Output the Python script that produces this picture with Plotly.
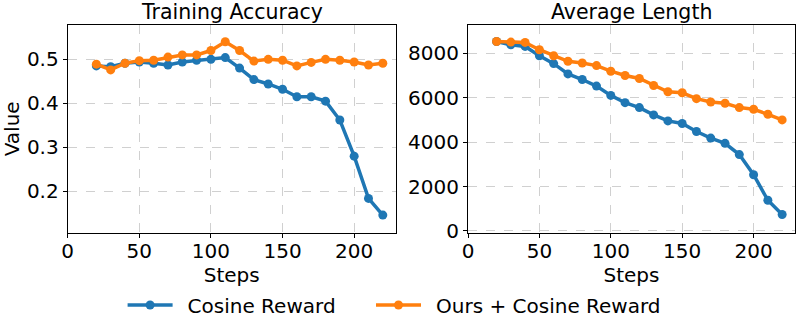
import plotly.graph_objects as go

steps = [20, 30, 40, 50, 60, 70, 80, 90, 100, 110, 120, 130, 140, 150, 160, 170, 180, 190, 200, 210, 220]

acc_cosine = [0.485, 0.483, 0.491, 0.494, 0.491, 0.487, 0.494, 0.498, 0.500, 0.504, 0.480, 0.454,
              0.444, 0.432, 0.415, 0.415, 0.405, 0.362, 0.280, 0.184, 0.146]
acc_ours = [0.489, 0.476, 0.491, 0.497, 0.498, 0.505, 0.510, 0.510, 0.520, 0.540, 0.520, 0.496,
            0.500, 0.498, 0.485, 0.493, 0.500, 0.498, 0.494, 0.487, 0.491]

len_cosine = [8536, 8387, 8315, 7896, 7540, 7076, 6824, 6527, 6108, 5779, 5558, 5229,
              4959, 4842, 4482, 4184, 3946, 3441, 2531, 1382, 740]
len_ours = [8536, 8509, 8495, 8167, 7896, 7644, 7568, 7450, 7198, 7004, 6869, 6554,
            6270, 6225, 5959, 5811, 5752, 5558, 5482, 5256, 5004]

series_names = ["Cosine Reward", "Ours + Cosine Reward"]
colors = ["#1f77b4", "#ff7f0e"]
titles = ["Training Accuracy", "Average Length"]
legend_ids = ["legend", "legend2"]

FONT = "DejaVu Sans"
FS = 20
W, H = 797, 318

fig = go.Figure()

for i, (ys, name) in enumerate(zip([acc_cosine, acc_ours], series_names)):
    fig.add_trace(go.Scatter(x=steps, y=ys, name="\u2002" + name, mode="lines+markers",
                             line=dict(color=colors[i], width=3.5),
                             marker=dict(color=colors[i], size=9),
                             xaxis="x", yaxis="y", legendgroup=name, showlegend=True,
                             legend=legend_ids[i], cliponaxis=False))
for i, (ys, name) in enumerate(zip([len_cosine, len_ours], series_names)):
    fig.add_trace(go.Scatter(x=steps, y=ys, name="\u2002" + name, mode="lines+markers",
                             line=dict(color=colors[i], width=3.5),
                             marker=dict(color=colors[i], size=9),
                             xaxis="x2", yaxis="y2", legendgroup=name, showlegend=False,
                             legend=legend_ids[i], cliponaxis=False))

# plot area bounds in pixels
left1, right1 = 67.7, 395.7
left2, right2 = 468.0, 795.0
top, bottom = 25.0, 232.7
ydom = [1 - bottom / H, 1 - top / H]

axis_common = dict(
    showline=True, linecolor="black", linewidth=1, mirror=True,
    ticks="outside", ticklen=4, tickwidth=1, tickcolor="black",
    showgrid=True, gridcolor="rgba(176,176,176,0.6)", griddash="dash", gridwidth=0.8,
    zeroline=False, automargin=False,
    tickfont=dict(family=FONT, size=FS, color="black"),
)

legend_common = dict(orientation="h", xanchor="left", y=1 - 305 / H, yanchor="middle",
                     font=dict(family=FONT, size=FS), itemwidth=45,
                     bgcolor="rgba(0,0,0,0)", borderwidth=0)

fig.update_layout(
    width=W, height=H,
    margin=dict(l=0, r=0, t=0, b=0, autoexpand=False),
    plot_bgcolor="white", paper_bgcolor="white",
    font=dict(family=FONT, size=FS, color="black"),
    xaxis=dict(domain=[left1 / W, right1 / W], range=[0, 229], anchor="y",
               tickvals=[0, 50, 100, 150, 200], ticklabelstandoff=-4,
               title=dict(text="Steps", font=dict(family=FONT, size=FS), standoff=0),
               **axis_common),
    yaxis=dict(domain=ydom, range=[0.106, 0.578], anchor="x",
               tickvals=[0.2, 0.3, 0.4, 0.5], ticktext=["0.2", "0.3", "0.4", "0.5"],
               title=dict(text="Value", font=dict(family=FONT, size=FS), standoff=6),
               **axis_common),
    xaxis2=dict(domain=[left2 / W, right2 / W], range=[0, 229], anchor="y2",
                tickvals=[0, 50, 100, 150, 200], ticklabelstandoff=-4,
                title=dict(text="Steps", font=dict(family=FONT, size=FS), standoff=0),
                **axis_common),
    yaxis2=dict(domain=ydom, range=[-80, 9280], anchor="x2",
                tickvals=[0, 2000, 4000, 6000, 8000],
                **axis_common),
    legend=dict(x=(128.3 - 5.7) / W, **legend_common),
    legend2=dict(x=(376.7 - 5.7) / W, **legend_common),
    showlegend=True,
)

for t, (l, r) in zip(titles, [(left1, right1), (left2, right2)]):
    fig.add_annotation(text=t, x=(l + r) / 2 / W, y=1 - 12 / H, xref="paper", yref="paper",
                       xanchor="center", yanchor="middle", showarrow=False,
                       font=dict(family=FONT, size=20.5, color="black"))

fig.write_html("out.html", config={"displayModeBar": False},
               post_script="document.body.style.margin='0';document.body.style.overflow='hidden';")
